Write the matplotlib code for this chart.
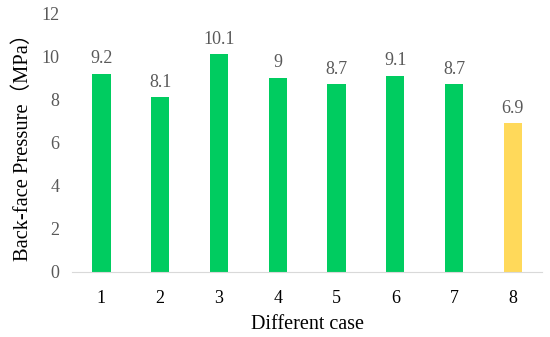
import matplotlib.pyplot as plt

# datos
casos = ['1', '2', '3', '4', '5', '6', '7', '8']
presion = [9.2, 8.1, 10.1, 9, 8.7, 9.1, 8.7, 6.9]
etiquetas = ['9.2', '8.1', '10.1', '9', '8.7', '9.1', '8.7', '6.9']
colores = ['#00CC60'] * 7 + ['#FFD95A']

plt.rcParams['font.family'] = ['Liberation Serif', 'Noto Sans CJK SC']

fig = plt.figure(figsize=(5.5, 3.37), dpi=100)
ax = fig.add_axes([0.131, 0.193, 0.855, 0.768])

x = range(len(casos))
ax.bar(x, presion, width=0.31, color=colores)
for i, v in enumerate(presion):
    ax.text(i, v + 0.3, etiquetas[i], ha='center', va='bottom', fontsize=13, color='#595959')

ax.set_xlim(-0.5, len(casos) - 0.5)
ax.set_ylim(0, 12)
ax.set_yticks(range(0, 13, 2))
ax.set_xticks(list(x))
ax.set_xticklabels(casos)
ax.tick_params(axis='y', length=0, labelsize=13, labelcolor='#595959', pad=9)
ax.tick_params(axis='x', length=0, labelsize=13, labelcolor='black', pad=13)

for s in ['top', 'right', 'left']:
    ax.spines[s].set_visible(False)
ax.spines['bottom'].set_color('#D9D9D9')

ax.set_xlabel('Different case', fontsize=14.5, labelpad=6)
ax.set_ylabel('Back-face Pressure（MPa）', fontsize=14.8, labelpad=6)

fig.savefig('out.png', dpi=100)
